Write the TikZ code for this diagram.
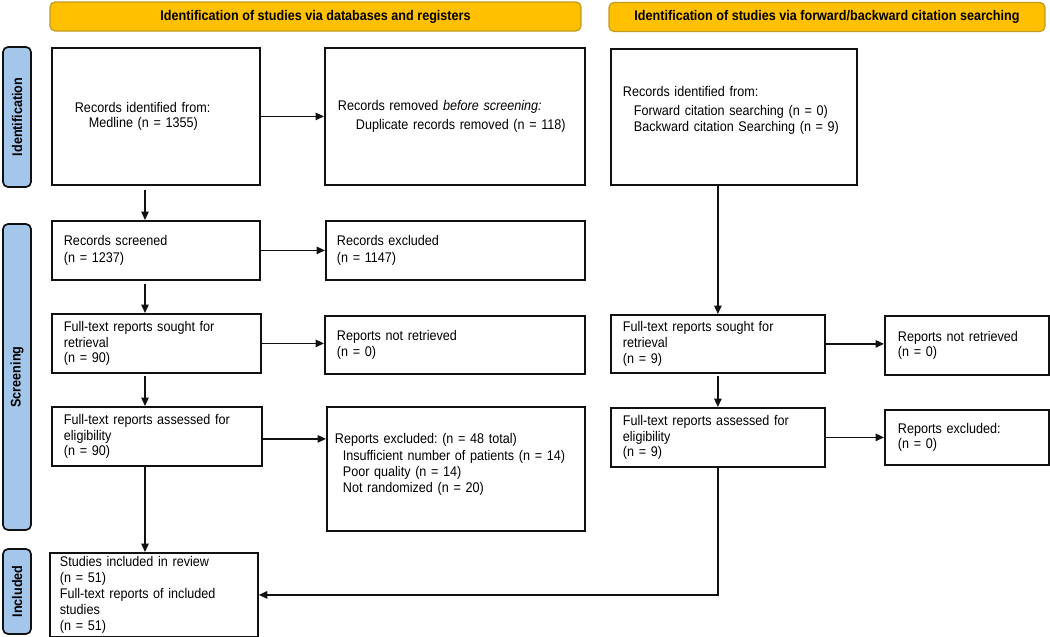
\documentclass[tikz,border=0pt]{standalone}
\usepackage{fontspec}
\setmainfont{Liberation Sans}[FakeStretch=0.9]
\usetikzlibrary{arrows.meta,calc}
\definecolor{gold}{HTML}{FFC000}
\definecolor{goldb}{HTML}{C29A1E}
\definecolor{sideblue}{HTML}{A4C6EA}
\definecolor{ink}{HTML}{111111}
\tikzset{
  box/.style={draw=ink, line width=1.8pt, inner sep=0pt, anchor=north west, align=left, fill=white,
    font=\fontsize{14}{15.8}\selectfont\frenchspacing},
  banner/.style={draw=goldb, fill=gold, line width=1.2pt, rounded corners=5pt, inner sep=0pt,
    font=\fontsize{14}{15}\selectfont\bfseries},
  side/.style={draw=ink, fill=sideblue, line width=1.7pt, rounded corners=5pt, inner sep=0pt, rotate=90,
    font=\fontsize{14}{15}\selectfont\bfseries},
  arr/.style={draw=ink, line width=1.4pt, -{Triangle[length=8.5pt,width=7.5pt]}},
}
\newcommand\bx[7]{%
  \pgfmathsetmacro\tw{#4-2*#6}%
  \node[box, minimum width=#4pt, minimum height=#5pt, text width=\tw pt] (#1) at (#2,#3) {#7};}
\begin{document}
\frenchspacing
\begin{tikzpicture}[x=1pt,y=-1pt]
\useasboundingbox (0,0) rectangle (1050,637);
% banners
\node[banner, minimum width=531pt, minimum height=29pt] (ban1) at (315.5,16.5) {Identification of studies via databases and registers};
\node[banner, minimum width=436pt, minimum height=29pt] (ban2) at (827,17) {Identification of studies via forward/backward citation searching};
% side labels
\node[side, minimum width=140pt, minimum height=28pt] (sid1) at (17,117) {Identification};
\node[side, minimum width=306pt, minimum height=28pt] (sid2) at (17,377) {Screening};
\node[side, minimum width=85pt, minimum height=28pt] (sid3) at (17,591.5) {Included};
% left column
\bx{L1}{51}{47}{208}{137}{23}{Records identified from:\\ \hspace*{14pt}Medline (n = 1355)}
\bx{L1r}{324}{47}{260}{137}{13}{Records removed \textit{before screening:}\\[3pt] \hspace*{18pt}Duplicate records removed (n = 118)}
\bx{L2}{51}{220}{208}{59}{12}{Records screened\\[1pt] (n = 1237)}
\bx{L2r}{325}{220}{259}{59}{11}{Records excluded\\[1pt] (n = 1147)}
\bx{L3}{51}{313}{209}{59}{12}{Full-text reports sought for\\ retrieval\\ (n = 90)}
\bx{L3r}{324}{315}{260}{58}{12}{Reports not retrieved\\[1pt] (n = 0)}
\bx{L4}{51}{406}{210}{59}{12}{Full-text reports assessed for\\ eligibility\\ (n = 90)}
\bx{L4r}{326}{406}{258}{124}{8}{Reports excluded: (n = 48 total)\\[1pt] \hspace*{8pt}Insufficient number of patients (n = 14)\\ \hspace*{8pt}Poor quality (n = 14)\\ \hspace*{8pt}Not randomized (n = 20)\\[-4pt] \mbox{}}
\bx{L5}{49}{552}{208}{84}{10}{Studies included in review\\ (n = 51)\\ Full-text reports of included\\ studies\\ (n = 51)}
% right column
\bx{R1}{610}{48}{246}{136}{12}{Records identified from:\\[3pt] \hspace*{11pt}Forward citation searching (n = 0)\\ \hspace*{11pt}Backward citation Searching (n = 9)\\ \mbox{}}
\bx{R3}{610}{314}{214}{58}{12}{Full-text reports sought for\\ retrieval\\ (n = 9)}
\bx{R3r}{884}{315}{164}{59}{13}{Reports not retrieved\\ (n = 0)}
\bx{R4}{610}{407}{214}{59}{12}{Full-text reports assessed for\\ eligibility\\ (n = 9)}
\bx{R4r}{884}{409}{164}{55}{13}{Reports excluded:\\ (n = 0)}
% connectors
\coordinate (cx) at (145,0);
\draw[arr] (L1.east) -- (L1r.west);
\draw[arr] (L2.east) -- (L2r.west);
\draw[arr] (L3.east) -- (L3.east -| L3r.west);
\draw[arr] ([yshift=-2.5pt]L4.east) -- ([yshift=-2.5pt]L4.east -| L4r.west);
\draw[arr] ([yshift=-4pt]L1.south -| cx) -- (L2.north -| cx);
\draw[arr] ([yshift=-3pt]L2.south -| cx) -- (L3.north -| cx);
\draw[arr] ([yshift=-2pt]L3.south -| cx) -- (L4.north -| cx);
\draw[arr] (L4.south -| cx) -- (L5.north -| cx);
\draw[arr] (R1.south -| R3.north) -- (R3.north);
\draw[arr] ([yshift=-2pt]R3.south) -- (R4.north);
\draw[arr] (R3.east) -- (R3.east -| R3r.west);
\draw[arr] (R4.east) -- (R4.east -| R4r.west);
\draw[arr] (R4.south) |- (L5.east);
\end{tikzpicture}
\end{document}
